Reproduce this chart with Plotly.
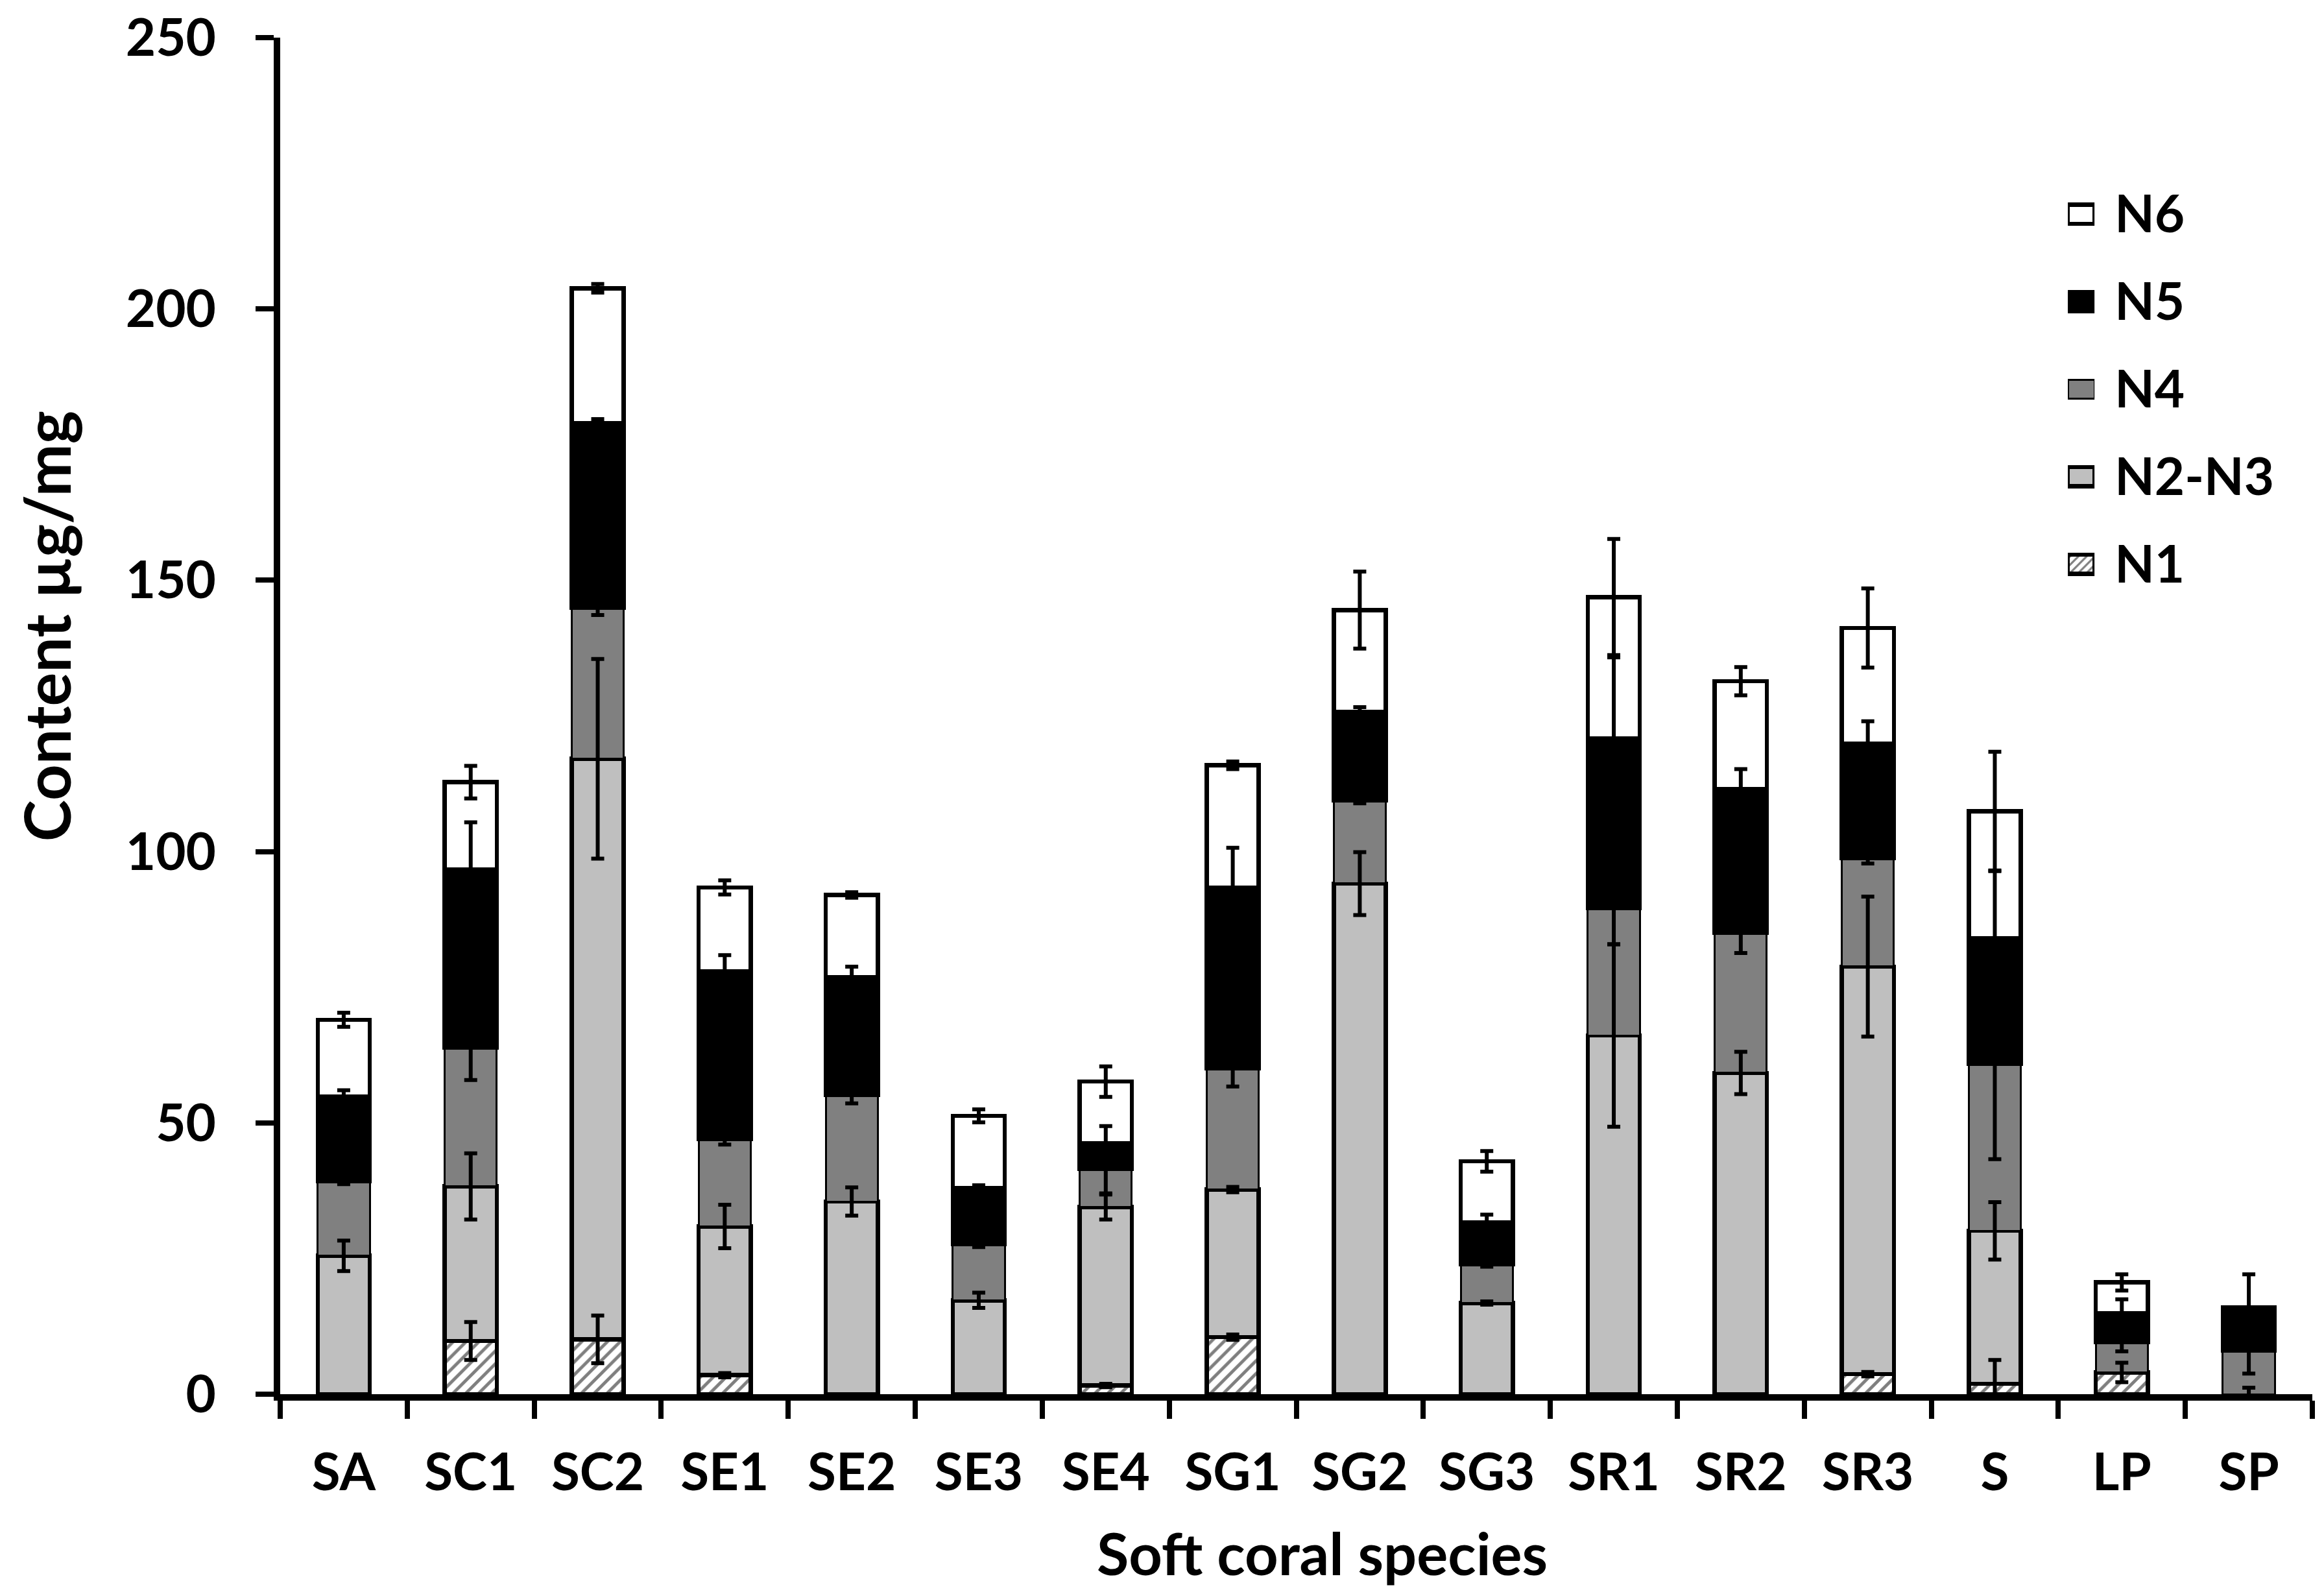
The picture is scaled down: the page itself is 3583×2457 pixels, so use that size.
import numpy as np
import plotly.graph_objs as go

# soft coral samples on the x axis
species = ["SA", "SC1", "SC2", "SE1", "SE2", "SE3", "SE4", "SG1", "SG2", "SG3",
           "SR1", "SR2", "SR3", "S", "LP", "SP"]
series = ["N1", "N2-N3", "N4", "N5", "N6"]

# segment heights (µg/mg), None = segment not present
n1 = [None, 9.8, 10.1, 3.5, None, None, 1.6, 10.5, None, None, None, None, 3.7, 1.9, 4.0, None]
n2_n3 = [25.5, 28.5, 107.0, 27.4, 35.5, 17.3, 32.9, 27.2, 94.1, 16.8, 66.1, 59.2, 75.1, 28.2, None, 0]
n4 = [13.7, 25.6, 27.8, 16.1, 19.6, 10.3, 7.0, 22.4, 15.3, 7.1, 23.5, 25.8, 20.0, 30.8, 5.6, 8.0]
n5 = [15.6, 32.8, 34.0, 30.9, 21.8, 10.4, 4.8, 33.3, 16.4, 7.8, 31.2, 26.5, 21.1, 23.1, 5.3, 8.0]
n6 = [14.2, 16.1, 24.9, 15.5, 15.1, 13.3, 11.3, 22.5, 18.7, 11.2, 26.1, 19.9, 21.3, 23.4, 5.7, None]

# error bars (+/-) at the top of each segment
err_n1 = [None, 3.5, 4.4, 0.4, None, None, 0.3, 0.5, None, None, None, None, 0.4, 4.4, 1.8, None]
err_n2_n3 = [2.8, 6.1, 18.4, 4.0, 2.6, 1.4, 2.3, 0.5, 5.8, 0.3, 16.8, 3.9, 12.9, 5.3, None, 1.2]
err_n4 = [0.5, 6.0, 1.3, 1.0, 1.5, 0.5, 4.5, 3.4, 0.5, 0.4, 6.7, 3.7, 1.0, 17.6, 1.7, 4.2]
err_n5 = [1.2, 8.7, 0.8, 3.0, 1.9, 0.5, 3.1, 7.3, 0.8, 1.4, 15.0, 3.7, 4.1, 12.5, 2.6, 6.1]
err_n6 = [1.3, 3.0, 0.8, 1.3, 0.5, 1.2, 2.8, 0.7, 7.1, 1.9, 10.7, 2.6, 7.3, 11.0, 1.5, None]

values = [n1, n2_n3, n4, n5, n6]
errors = [err_n1, err_n2_n3, err_n4, err_n5, err_n6]

fills = ["white", "#BFBFBF", "#808080", "black", "white"]
shapes = ["/", "", "", "", ""]
edges = [6.5, 6.5, 3, 6.5, 6.5]

font_name = "Lato"
tick_font = dict(family=font_name, size=80, color="black", weight="bold")

fig = go.Figure()

# stacked bars
for i in range(len(series)):
    fig.add_trace(go.Bar(
        x=species, y=values[i], name=series[i], width=0.41, showlegend=False,
        marker=dict(color=fills[i], line=dict(color="black", width=edges[i]),
                    pattern=dict(shape=shapes[i], fgcolor="black", bgcolor=fills[i],
                                 size=14, solidity=0.35))))

# error bars drawn on top of all bars, at cumulative heights
running = np.zeros(len(species))
for i in range(len(series)):
    seg = np.array([0 if v is None else v for v in values[i]], dtype=float)
    running = running + seg
    tops = [None if v is None else round(float(r), 2) for v, r in zip(values[i], running)]
    fig.add_trace(go.Scatter(
        x=species, y=tops, mode="markers", showlegend=False, hoverinfo="skip",
        marker=dict(size=1, opacity=0, color="black"),
        error_y=dict(type="data", array=errors[i], color="black", thickness=6, width=10)))

# legend swatches as small bars on their own axes (keeps the hatch and the size)
for i in range(len(series)):
    fig.add_trace(go.Bar(
        x=[1], y=[series[i]], orientation="h", xaxis="x2", yaxis="y2", width=0.22,
        showlegend=False, hoverinfo="skip",
        marker=dict(color=fills[i], line=dict(color="black", width=edges[i]),
                    pattern=dict(shape=shapes[i], fgcolor="black", bgcolor=fills[i],
                                 size=9, solidity=0.35))))

fig.update_layout(
    width=3583, height=2457,
    margin=dict(l=424, r=26, t=50, b=316),
    barmode="stack",
    plot_bgcolor="white", paper_bgcolor="white",
    showlegend=False,
    xaxis=dict(type="category", range=[-0.5, 15.5], tickson="boundaries",
               ticks="outside", ticklen=28, tickwidth=8, tickcolor="black",
               showline=True, linewidth=10, linecolor="black", showgrid=False,
               tickfont=tick_font, ticklabelstandoff=42, automargin=False),
    yaxis=dict(range=[0, 250], dtick=50, ticks="outside", ticklen=28, tickwidth=8,
               tickcolor="black", showline=True, linewidth=10, linecolor="black",
               showgrid=False, zeroline=False, tickfont=tick_font, ticklabelstandoff=45,
               ticklabeloverflow="allow", automargin=False),
    xaxis2=dict(domain=[0.8797, 0.8928], anchor="y2", range=[0, 1], visible=False,
                automargin=False),
    yaxis2=dict(domain=[0.5796, 0.9020], anchor="x2", type="category",
                categoryorder="array", categoryarray=series, range=[-0.5, 4.5],
                side="right", ticks="", showline=False, showgrid=False, zeroline=False,
                tickfont=tick_font, ticklabelstandoff=30, automargin=False),
    annotations=[
        dict(text="Content µg/mg", xref="paper", yref="paper", x=-0.115, y=0.566,
             textangle=-90, showarrow=False, xanchor="center", yanchor="middle",
             font=dict(family=font_name, size=97, color="black", weight="bold")),
        dict(text="Soft coral species", xref="paper", yref="paper", x=0.5128, y=-0.1168,
             showarrow=False, xanchor="center", yanchor="middle",
             font=dict(family=font_name, size=90, color="black", weight="bold")),
    ],
)

fig.write_html("out.html")
